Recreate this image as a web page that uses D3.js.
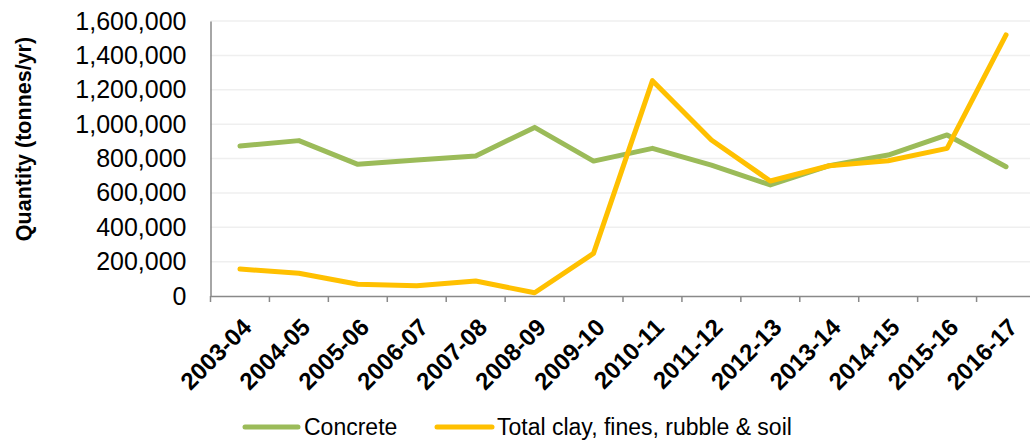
<!DOCTYPE html>
<html><head><meta charset="utf-8">
<script src="https://cdn.jsdelivr.net/npm/d3@7"></script>
<style>
html,body{margin:0;padding:0;background:#fff;}
svg{display:block;font-family:"Liberation Sans",Arial,sans-serif;}
</style></head>
<body>
<svg id="chart" width="1030" height="441"></svg>
<script>
const categories = ["2003-04","2004-05","2005-06","2006-07","2007-08","2008-09","2009-10","2010-11","2011-12","2012-13","2013-14","2014-15","2015-16","2016-17"];
const concrete = [873000,904000,766000,791000,815000,981000,785000,859000,762000,646000,758000,820000,937000,752000];
const clay = [157000,132000,68000,60000,87000,19000,248000,1253000,908000,669000,758000,787000,859000,1519000];
const yTicks = [0,200000,400000,600000,800000,1000000,1200000,1400000,1600000];
const seriesNames = ["Concrete","Total clay, fines, rubble & soil"];
const colors = ["#9BBB59","#FFC000"];

(function(){
const svg = d3.select("#chart");
const mL = 210.5, mR = 1035.5, mT = 21, mB = 296;
const x = d3.scaleBand().domain(categories).range([mL, mR]);
const y = d3.scaleLinear().domain([0,1600000]).range([mB, mT]);
const fmt = d3.format(",");

// gridlines
svg.append("g").selectAll("line").data(yTicks.filter(d=>d>0)).join("line")
  .attr("x1", mL).attr("x2", mR)
  .attr("y1", d=>y(d)).attr("y2", d=>y(d))
  .attr("stroke","#EFEFEF").attr("stroke-width",1.5);

// y axis
const yAxis = svg.append("g").attr("transform",`translate(${mL},0)`)
  .call(d3.axisLeft(y).tickValues(yTicks).tickFormat(d=>fmt(d)).tickSize(0).tickPadding(24));
yAxis.select(".domain").attr("stroke","#898989").attr("stroke-width",1.5);
yAxis.selectAll("text").attr("font-size",25).attr("fill","#000")
  .attr("font-family","'Liberation Sans',Arial,sans-serif");

// x axis
const xAxis = svg.append("g").attr("transform",`translate(0,${mB})`)
  .call(d3.axisBottom(x).tickSize(0).tickFormat(""));
xAxis.select(".domain").attr("stroke","#898989").attr("stroke-width",1.5);
xAxis.selectAll(".tick").remove();
const bounds = categories.map(c=>x(c)).concat([mR]);
xAxis.append("g").selectAll("line").data(bounds).join("line")
  .attr("x1",d=>d).attr("x2",d=>d).attr("y1",0).attr("y2",6)
  .attr("stroke","#898989").attr("stroke-width",1.5);
svg.append("g").selectAll("text").data(categories).join("text")
  .attr("transform", d=>`translate(${x(d)+x.bandwidth()/2+1},${mB+21}) rotate(-45)`)
  .attr("text-anchor","end").attr("dy","0.7em")
  .attr("font-size",24).attr("font-weight","bold").attr("fill","#000")
  .attr("font-family","'Liberation Sans',Arial,sans-serif")
  .text(d=>d);

// y title
svg.append("text")
  .attr("transform",`translate(31,139) rotate(-90)`)
  .attr("text-anchor","middle").attr("font-size",21.5).attr("font-weight","bold")
  .attr("fill","#000").text("Quantity (tonnes/yr)");

// lines
const line = d3.line().x((d,i)=>x(categories[i])+x.bandwidth()/2).y(d=>y(d));
[concrete, clay].forEach((s,k)=>{
  svg.append("path").datum(s).attr("d",line).attr("fill","none")
    .attr("stroke",colors[k]).attr("stroke-width",5)
    .attr("stroke-linejoin","round").attr("stroke-linecap","round");
});

// legend
const legendItems = [{x1:245,x2:298,tx:304},{x1:437,x2:492,tx:497}];
const lg = svg.append("g");
legendItems.forEach((it,k)=>{
  lg.append("line").attr("x1",it.x1).attr("x2",it.x2).attr("y1",427).attr("y2",427)
    .attr("stroke",colors[k]).attr("stroke-width",5).attr("stroke-linecap","round");
  lg.append("text").attr("x",it.tx).attr("y",427).attr("dy","0.35em")
    .attr("font-size",23).attr("fill","#000").text(seriesNames[k]);
});
})();
</script>
</body></html>
